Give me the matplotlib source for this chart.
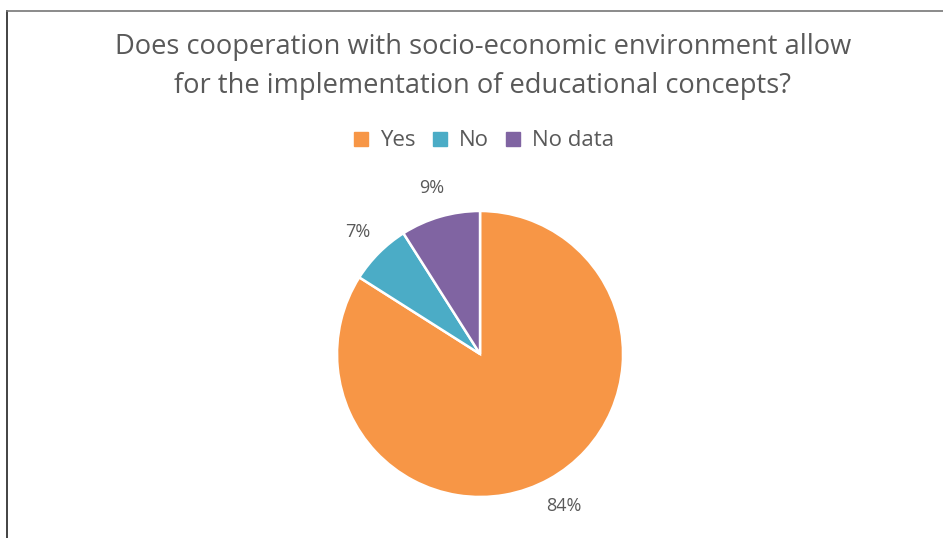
import matplotlib.pyplot as plt
from matplotlib.lines import Line2D

categories = ["Yes", "No", "No data"]
shares = [84, 7, 9]
colors = ["#F79646", "#4BACC6", "#8064A2"]

title = "Does cooperation with socio-economic environment allow\nfor the implementation of educational concepts?"
text_color = "#595959"

plt.rcParams['font.family'] = ['Open Sans', 'DejaVu Sans']

fig = plt.figure(figsize=(9.43, 5.38), dpi=100)

# chart frame: top and left border only
fig.add_artist(Line2D([0.0074, 0.0074], [0, 0.9796], color="#222222", lw=1.2, transform=fig.transFigure))
fig.add_artist(Line2D([0.0074, 1.0], [0.9796, 0.9796], color="#777777", lw=1.2, transform=fig.transFigure))

fig.text(0.512, 0.876, title, ha='center', va='center', fontsize=19.6,
         color=text_color, linespacing=1.55)

ax = fig.add_axes([0.3195, 0.0098, 0.3791, 0.6645])
wedges, texts = ax.pie(shares, colors=colors, startangle=90, counterclock=False,
                       labels=[f"{v}%" for v in shares], labeldistance=1.21,
                       wedgeprops=dict(edgecolor='white', linewidth=1.8),
                       textprops=dict(fontsize=13, color=text_color))
for t in texts:
    t.set_ha('center')
    t.set_va('center')
ax.set_xlim(-1.25, 1.25)
ax.set_ylim(-1.25, 1.25)

handles = [Line2D([], [], marker='s', linestyle='none', markersize=10,
                  markerfacecolor=c, markeredgecolor=c) for c in colors]
fig.legend(handles, categories, loc='center', bbox_to_anchor=(0.513, 0.738),
           ncol=3, frameon=False, fontsize=16, labelcolor=text_color,
           handlelength=0.7, handletextpad=0.5, columnspacing=0.75)

fig.savefig("out.png", dpi=100)
